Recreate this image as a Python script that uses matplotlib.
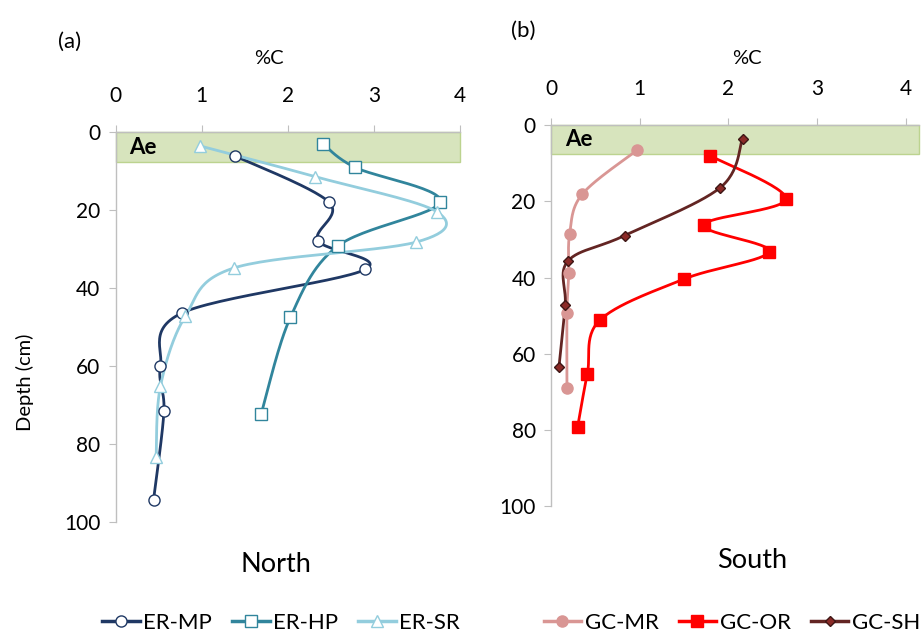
import numpy as np
import matplotlib
matplotlib.use("Agg")
import matplotlib.pyplot as plt
from matplotlib.patches import Rectangle
from matplotlib.lines import Line2D

plt.rcParams['font.family'] = ['Lato', 'DejaVu Sans']

# %C profiles with depth (cm)
er_mp_c = [1.39, 2.48, 2.35, 2.90, 0.77, 0.52, 0.56, 0.44]
er_mp_d = [6.1, 18.0, 27.8, 35.2, 46.4, 60.1, 71.7, 94.3]
er_hp_c = [2.41, 2.78, 3.77, 2.58, 2.03, 1.69]
er_hp_d = [3.0, 9.0, 17.8, 29.2, 47.5, 72.4]
er_sr_c = [0.98, 2.32, 3.73, 3.49, 1.38, 0.81, 0.52, 0.47]
er_sr_d = [3.5, 11.4, 20.4, 28.2, 34.8, 47.2, 65.2, 83.3]

gc_mr_c = [0.97, 0.35, 0.21, 0.20, 0.18, 0.18]
gc_mr_d = [6.6, 18.2, 28.6, 38.9, 49.3, 69.1]
gc_or_c = [1.79, 2.65, 1.72, 2.46, 1.50, 0.55, 0.41, 0.30]
gc_or_d = [8.0, 19.4, 26.2, 33.2, 40.4, 51.2, 65.2, 79.2]
gc_sh_c = [2.16, 1.91, 0.83, 0.19, 0.16, 0.09]
gc_sh_d = [3.6, 16.4, 29.0, 35.7, 47.2, 63.4]

ae_depth = 7.6
x_ticks = [0, 1, 2, 3, 4]
y_ticks = [0, 20, 40, 60, 80, 100]

GRID = '#bfbfbf'


def smooth(xs, ys, sx=86.0, sy=3.87, n=30):
    # excel-style smoothed line: cubic bezier through the points
    p = np.column_stack([np.array(xs) * sx, np.array(ys) * sy])
    out = [p[0]]
    for i in range(len(p) - 1):
        p0 = p[i - 1] if i > 0 else p[i]
        p1, p2 = p[i], p[i + 1]
        p3 = p[i + 2] if i + 2 < len(p) else p[i + 1]
        c1 = p1 + (p2 - p0) / 6.0
        c2 = p2 - (p3 - p1) / 6.0
        t = np.linspace(0, 1, n)[1:, None]
        seg = ((1 - t) ** 3) * p1 + 3 * ((1 - t) ** 2) * t * c1 + 3 * (1 - t) * t ** 2 * c2 + t ** 3 * p2
        out.extend(seg)
    out = np.array(out)
    return out[:, 0] / sx, out[:, 1] / sy


def setup(ax, xmax):
    ax.set_xlim(0, xmax)
    ax.set_ylim(100, 0)
    ax.xaxis.tick_top()
    ax.set_xticks(x_ticks)
    ax.set_yticks(y_ticks)
    for s in ['right', 'bottom']:
        ax.spines[s].set_visible(False)
    for s in ['top', 'left']:
        ax.spines[s].set_color(GRID)
        ax.spines[s].set_linewidth(1)
    ax.tick_params(axis='x', direction='out', length=5, color=GRID, labelsize=15, pad=14)
    ax.tick_params(axis='y', direction='out', length=5, color=GRID, labelsize=15, pad=6)
    ax.patch.set_alpha(0)


def profile(ax, c, d, color, marker, ms, mfc, mec=None):
    xs, ys = smooth(c, d)
    ax.plot(xs, ys, color=color, lw=2.0, zorder=3, solid_capstyle='round')
    ax.plot(c, d, ls='none', marker=marker, ms=ms, mfc=mfc,
            mec=mec or color, mew=1.0, zorder=4)
    return Line2D([], [], color=color, lw=2.5, marker=marker, ms=ms,
                  mfc=mfc, mec=mec or color, mew=1.0)


fig = plt.figure(figsize=(9.24, 6.34), dpi=100)
axL = fig.add_axes([115.7 / 924, 1 - 521.7 / 634, 344.3 / 924, 389.4 / 634])
axR = fig.add_axes([551 / 924, 1 - 506.3 / 634, 368 / 924, 381.3 / 634])

setup(axL, 4)
setup(axR, 4.15)

for ax, w in [(axL, 4.0), (axR, 4.15)]:
    ax.add_patch(Rectangle((0, 0), w, ae_depth, facecolor='#d7e4bd',
                           edgecolor='#bcd38f', lw=1, zorder=1, clip_on=False))
    ax.text(0.16, ae_depth / 2, 'Ae', fontsize=16, fontweight='bold',
            va='center', ha='left', zorder=2)

hL = [
    profile(axL, er_mp_c, er_mp_d, '#1f3864', 'o', 8, 'white'),
    profile(axL, er_hp_c, er_hp_d, '#31859c', 's', 8.5, 'white'),
    profile(axL, er_sr_c, er_sr_d, '#93cddd', '^', 8, 'white'),
]
hR = [
    profile(axR, gc_mr_c, gc_mr_d, '#d99694', 'o', 8, '#d99694'),
    profile(axR, gc_or_c, gc_or_d, '#ff0000', 's', 8, '#ff0000'),
    profile(axR, gc_sh_c, gc_sh_d, '#632523', 'D', 5.5, '#8b2a27', '#3d1615'),
]

fig.legend(hL, ['ER-MP', 'ER-HP', 'ER-SR'], loc='center', bbox_to_anchor=(0.304, 0.018),
           ncol=3, frameon=False, fontsize=16, handlelength=1.7, handletextpad=0.15,
           columnspacing=0.9)
fig.legend(hR, ['GC-MR', 'GC-OR', 'GC-SH'], loc='center', bbox_to_anchor=(0.792, 0.018),
           ncol=3, frameon=False, fontsize=16, handlelength=1.7, handletextpad=0.15,
           columnspacing=0.9)

fig.text(70 / 924, 1 - 42 / 634, '(a)', fontsize=16, ha='center', va='center')
fig.text(523 / 924, 1 - 31 / 634, '(b)', fontsize=16, ha='center', va='center')
fig.text(269 / 924, 1 - 58 / 634, '%C', fontsize=14.5, ha='center', va='center')
fig.text(747 / 924, 1 - 58 / 634, '%C', fontsize=14.5, ha='center', va='center')
fig.text(25 / 924, 1 - 382 / 634, 'Depth (cm)', fontsize=14.5, rotation=90,
         ha='center', va='center')
fig.text(276 / 924, 1 - 565 / 634, 'North', fontsize=19.5, ha='center', va='center')
fig.text(752 / 924, 1 - 560 / 634, 'South', fontsize=19.5, ha='center', va='center')

fig.savefig('out.png', dpi=100, facecolor='white')
